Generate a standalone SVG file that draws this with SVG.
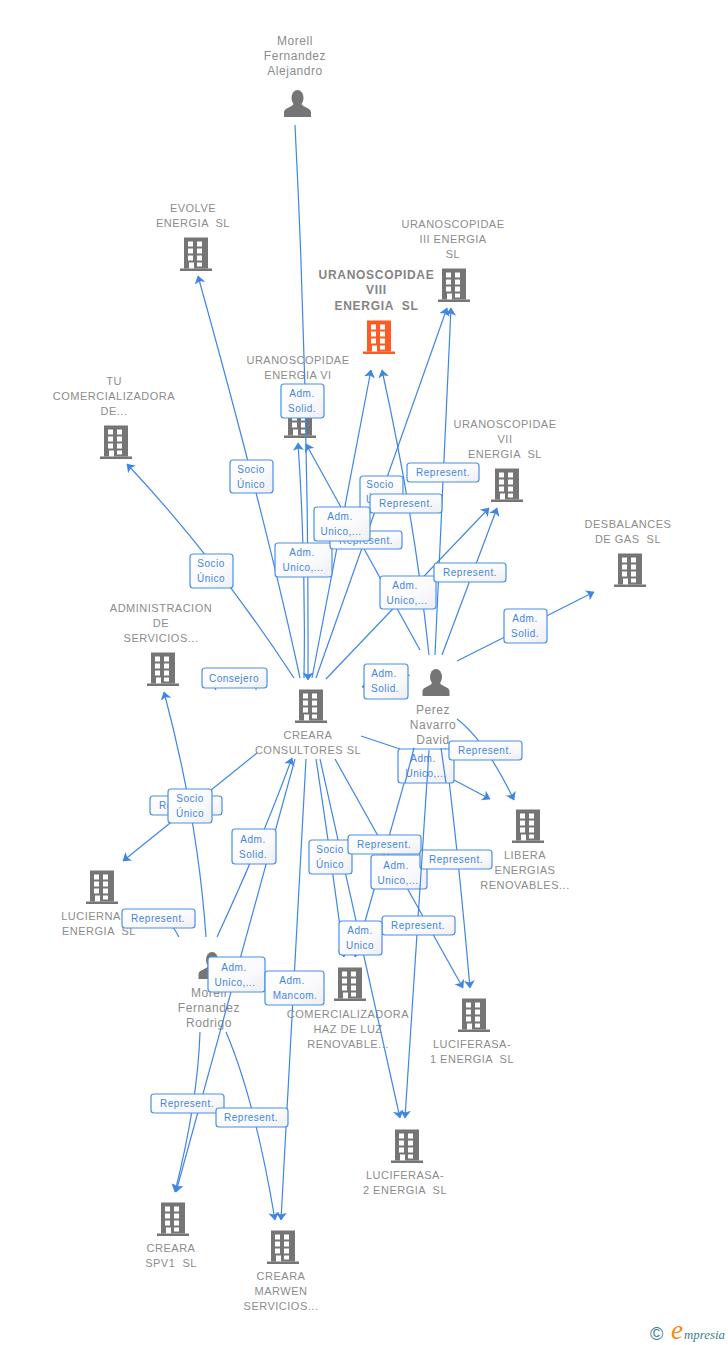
<svg xmlns="http://www.w3.org/2000/svg" width="728" height="1345" viewBox="0 0 728 1345">
<style>
text{font-family:"Liberation Sans",Arial,sans-serif}
.n{font-size:11px;fill:#8c8c8c;text-anchor:middle;white-space:pre;letter-spacing:.5px}
.p{font-size:12px;letter-spacing:.55px}
.b{font-weight:bold;fill:#848484;font-size:12px;letter-spacing:.7px}
.e{fill:none;stroke:#3f86e4;stroke-width:1.2}
.m{marker-end:url(#a)}
.r{fill:url(#g);stroke:#4a8fe6;stroke-width:1.2}
.l{font-size:10px;fill:#4585de;text-anchor:middle;letter-spacing:.5px}
</style>
<defs>
<linearGradient id="g" x1="0" y1="0" x2="1" y2="1"><stop offset="0" stop-color="#fff"/><stop offset=".6" stop-color="#fafafc"/><stop offset="1" stop-color="#eeeef3"/></linearGradient>
<marker id="a" viewBox="0 0 8 12" refX="7.500" refY="6" markerWidth="8" markerHeight="12" markerUnits="userSpaceOnUse" orient="auto"><path d="M0 0.500L8 6L0 11.500L2 6Z" fill="#3f86e4"/></marker>
<g id="bld"><path fill-rule="evenodd" d="M-12 0H12V31H-12ZM-8 4V9H-3V4ZM1 4V9H6V4ZM-8 11V16H-3V11ZM1 11V16H6V11ZM-8 18V23H-3V18ZM1 18V23H6V18ZM-7 25V31H-2V25ZM1 25V29H6V25Z"/><rect x="-16" y="31" width="32" height="2.500"/></g>
<g id="per"><ellipse cx="0" cy="8" rx="6" ry="8"/><path d="M-13.500 27V22C-13.500 18-5 17-4 14H4C5 17 13.500 18 13.500 22V27Z"/></g>
</defs>
<rect width="728" height="1345" fill="#fff"/>
<g id="nodes">
<g id="alejandro" fill="#757575"><use href="#per" x="297.500" y="90"/><text class="n p" x="295" y="45">Morell</text><text class="n p" x="295" y="60">Fernandez</text><text class="n p" x="295" y="75">Alejandro</text></g>
<g id="evolve" fill="#757575"><use href="#bld" x="196" y="237.500"/><text class="n" x="193" y="212">EVOLVE</text><text class="n" x="193" y="227">ENERGIA  SL</text></g>
<g id="u3" fill="#757575"><use href="#bld" x="454" y="268.500"/><text class="n" x="453" y="228">URANOSCOPIDAE</text><text class="n" x="453" y="243">III ENERGIA</text><text class="n" x="453" y="258">SL</text></g>
<g id="u8" fill="#ff5a26"><use href="#bld" x="379" y="320.500"/><text class="n b" x="376.500" y="279">URANOSCOPIDAE</text><text class="n b" x="376.500" y="294">VIII</text><text class="n b" x="376.500" y="310">ENERGIA  SL</text></g>
<g id="u6" fill="#757575"><use href="#bld" x="300" y="404.500"/><text class="n" x="298" y="364">URANOSCOPIDAE</text><text class="n" x="298" y="379">ENERGIA VI</text></g>
<g id="tu" fill="#757575"><use href="#bld" x="116" y="425.500"/><text class="n" x="114" y="385">TU</text><text class="n" x="114" y="400">COMERCIALIZADORA</text><text class="n" x="114" y="415">DE...</text></g>
<g id="u7" fill="#757575"><use href="#bld" x="507" y="468.500"/><text class="n" x="505" y="428">URANOSCOPIDAE</text><text class="n" x="505" y="443">VII</text><text class="n" x="505" y="458">ENERGIA  SL</text></g>
<g id="desb" fill="#757575"><use href="#bld" x="630" y="553.500"/><text class="n" x="628" y="528">DESBALANCES</text><text class="n" x="628" y="543">DE GAS  SL</text></g>
<g id="admin" fill="#757575"><use href="#bld" x="163" y="652.500"/><text class="n" x="161" y="612">ADMINISTRACION</text><text class="n" x="161" y="627">DE</text><text class="n" x="161" y="642">SERVICIOS...</text></g>
<g id="creara" fill="#757575"><use href="#bld" x="311" y="689.500"/><text class="n" x="308" y="739">CREARA</text><text class="n" x="308" y="754">CONSULTORES SL</text></g>
<g id="perez" fill="#757575"><use href="#per" x="436" y="669"/><text class="n p" x="433" y="714">Perez</text><text class="n p" x="433" y="729">Navarro</text><text class="n p" x="433" y="744">David</text></g>
<g id="libera" fill="#757575"><use href="#bld" x="528" y="809.500"/><text class="n" x="525" y="859">LIBERA</text><text class="n" x="525" y="874">ENERGIAS</text><text class="n" x="525" y="889">RENOVABLES...</text></g>
<g id="lucierna" fill="#757575"><use href="#bld" x="102" y="870.500"/><text class="n" x="91" y="920">LUCIERNA</text><text class="n" x="99" y="935">ENERGIA  SL</text></g>
<g id="rodrigo" fill="#757575"><use href="#per" x="212" y="952"/><text class="n p" x="209" y="997">Morell</text><text class="n p" x="209" y="1012">Fernandez</text><text class="n p" x="209" y="1027">Rodrigo</text></g>
<g id="comerc" fill="#757575"><use href="#bld" x="350" y="967.500"/><text class="n" x="348" y="1018">COMERCIALIZADORA</text><text class="n" x="348" y="1033">HAZ DE LUZ</text><text class="n" x="348" y="1048">RENOVABLE...</text></g>
<g id="luc1" fill="#757575"><use href="#bld" x="474" y="998.500"/><text class="n" x="472" y="1048">LUCIFERASA-</text><text class="n" x="472" y="1063">1 ENERGIA  SL</text></g>
<g id="luc2" fill="#757575"><use href="#bld" x="407" y="1129.500"/><text class="n" x="405" y="1179">LUCIFERASA-</text><text class="n" x="405" y="1194">2 ENERGIA  SL</text></g>
<g id="spv1" fill="#757575"><use href="#bld" x="173" y="1202.500"/><text class="n" x="171" y="1252">CREARA</text><text class="n" x="171" y="1267">SPV1  SL</text></g>
<g id="marwen" fill="#757575"><use href="#bld" x="283" y="1230.500"/><text class="n" x="281" y="1280">CREARA</text><text class="n" x="281" y="1295">MARWEN</text><text class="n" x="281" y="1310">SERVICIOS...</text></g>
</g>
<g id="connectors">
<path class="e m" d="M295 125Q309 400 308 680"/>
<path class="e m" d="M300 678Q266 520 198 276"/>
<path class="e m" d="M294 678Q216 559 127 464"/>
<path class="e m" d="M304 678Q306 560 298 443"/>
<path class="e m" d="M420 650L306 444"/>
<path class="e m" d="M312 678L371 370"/>
<path class="e m" d="M316 678L447 308"/>
<path class="e m" d="M429 655Q415 520 382 370"/>
<path class="e m" d="M435 655L451 308"/>
<path class="e m" d="M442 655L497 508"/>
<path class="e m" d="M326 679L489 508"/>
<path class="e m" d="M457 661L594 592"/>
<path class="e m" d="M410 675L362 687"/>
<path class="e" d="M214.500 687L216 690M256 688V690"/>
<path class="e m" d="M257 753L123 861"/>
<path class="e m" d="M206 937Q198 820 164 692"/>
<path class="e" d="M172 925L179 937"/>
<path class="e m" d="M217 937Q262 840 292 758"/>
<path class="e m" d="M295 759L176 1192"/>
<path class="e m" d="M306 759L281 1220"/>
<path class="e m" d="M200 1032Q198 1100 175 1192"/>
<path class="e m" d="M226 1032Q255 1100 275 1220"/>
<path class="e m" d="M316 759Q330 850 344 957"/>
<path class="e m" d="M320 759L400 1118"/>
<path class="e m" d="M335 759L463 988"/>
<path class="e m" d="M457 719Q485 740 514 800"/>
<rect class="r" x="281" y="384" width="43" height="34" rx="3"/><text class="l" x="302" y="397">Adm.</text><text class="l" x="302" y="412">Solid.</text>
<rect class="r" x="230" y="460" width="43" height="33" rx="3"/><text class="l" x="251" y="473">Socio</text><text class="l" x="251" y="488">Único</text>
<rect class="r" x="190" y="554" width="43" height="34" rx="3"/><text class="l" x="211" y="567">Socio</text><text class="l" x="211" y="582">Único</text>
<rect class="r" x="275" y="543" width="57" height="34" rx="3"/><text class="l" x="302" y="556">Adm.</text><text class="l" x="303" y="571">Unico,...</text>
<rect class="r" x="360" y="476" width="43" height="34" rx="3"/><text class="l" x="380" y="488">Socio</text><text class="l" x="380" y="503">Único</text>
<rect class="r" x="407" y="463" width="72" height="19" rx="3"/><text class="l" x="443" y="476">Represent.</text>
<rect class="r" x="370" y="494" width="72" height="19" rx="3"/><text class="l" x="406" y="507">Represent.</text>
<rect class="r" x="330" y="531" width="72" height="18" rx="3"/><text class="l" x="366" y="544">Represent.</text>
<rect class="r" x="314" y="507" width="56" height="34" rx="3"/><text class="l" x="340" y="520">Adm.</text><text class="l" x="341" y="535">Unico,...</text>
<rect class="r" x="380" y="576" width="56" height="33" rx="3"/><text class="l" x="405" y="589">Adm.</text><text class="l" x="407" y="604">Unico,...</text>
<rect class="r" x="434" y="563" width="72" height="19" rx="3"/><text class="l" x="470" y="576">Represent.</text>
<rect class="r" x="504" y="609" width="43" height="34" rx="3"/><text class="l" x="525" y="622">Adm.</text><text class="l" x="525" y="637">Solid.</text>
<rect class="r" x="364" y="664" width="44" height="35" rx="3"/><text class="l" x="384" y="677">Adm.</text><text class="l" x="385" y="692">Solid.</text>
<rect class="r" x="202" y="668" width="65" height="20" rx="3"/><text class="l" x="234" y="682">Consejero</text>
<rect class="r" x="150" y="796" width="72" height="19" rx="3"/><text class="l" x="186" y="809">Represent.</text>
<rect class="r" x="168" y="789" width="44" height="34" rx="3"/><text class="l" x="190" y="802">Socio</text><text class="l" x="190" y="817">Único</text>
<rect class="r" x="232" y="829" width="44" height="35" rx="3"/><text class="l" x="253" y="843">Adm.</text><text class="l" x="253" y="858">Solid.</text>
<rect class="r" x="122" y="909" width="73" height="19" rx="3"/><text class="l" x="158" y="922">Represent.</text>
<rect class="r" x="208" y="957" width="57" height="35" rx="3"/><text class="l" x="234" y="971">Adm.</text><text class="l" x="235" y="986">Unico,...</text>
<rect class="r" x="265" y="971" width="59" height="34" rx="3"/><text class="l" x="292" y="984">Adm.</text><text class="l" x="295" y="999">Mancom.</text>
<rect class="r" x="309" y="840" width="43" height="34" rx="3"/><text class="l" x="330" y="853">Socio</text><text class="l" x="330" y="868">Único</text>
<path class="e m" d="M414 748L355 957"/>
<rect class="r" x="348" y="835" width="73" height="19" rx="3"/><text class="l" x="384" y="848">Represent.</text>
<rect class="r" x="371" y="855" width="56" height="34" rx="3"/><text class="l" x="396" y="869">Adm.</text><text class="l" x="398" y="884">Unico,...</text>
<path class="e m" d="M445 748Q458 850 470 988"/>
<rect class="r" x="420" y="850" width="72" height="19" rx="3"/><text class="l" x="456" y="863">Represent.</text>
<path class="e m" d="M429 750L405 1118"/>
<rect class="r" x="382" y="916" width="73" height="19" rx="3"/><text class="l" x="418" y="929">Represent.</text>
<rect class="r" x="339" y="921" width="43" height="34" rx="3"/><text class="l" x="360" y="934">Adm.</text><text class="l" x="360" y="949">Unico</text>
<path class="e" d="M361 736L400 749"/>
<rect class="r" x="398" y="749" width="56" height="34" rx="3"/><text class="l" x="423" y="762">Adm.</text><text class="l" x="426" y="777">Unico,...</text>
<path class="e" d="M414 748L405 783M429 750L427 783M441 748L446 783"/>
<path class="e m" d="M454 780L490 799"/>
<rect class="r" x="449" y="741" width="73" height="19" rx="3"/><text class="l" x="485" y="754">Represent.</text>
<rect class="r" x="151" y="1094" width="73" height="19" rx="3"/><text class="l" x="187" y="1107">Represent.</text>
<rect class="r" x="216" y="1108" width="72" height="19" rx="3"/><text class="l" x="251" y="1121">Represent.</text>
</g>
<g id="logo">
<text x="650" y="1340" font-size="18" fill="#3b7d8c">©</text>
<text x="671" y="1339" font-size="27" fill="#ef8a1e" style="font-family:'Liberation Serif',serif;font-style:italic">e</text>
<text x="684" y="1339" font-size="12.500" fill="#3b7d8c" textLength="41" lengthAdjust="spacingAndGlyphs" style="font-family:'Liberation Serif',serif;font-style:italic">mpresia</text>
</g>
</svg>
